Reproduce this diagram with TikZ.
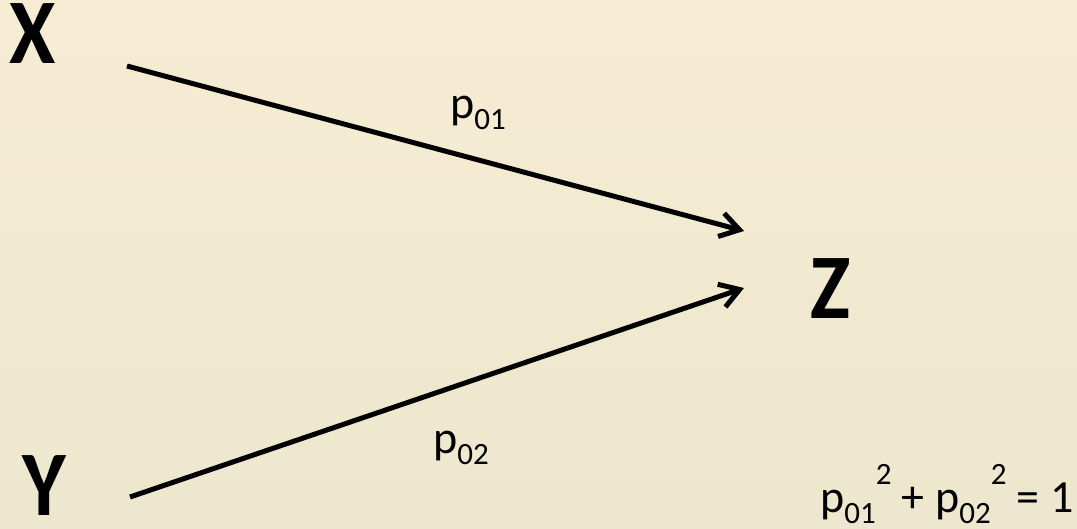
\documentclass[tikz,border=0pt]{standalone}
\usepackage{fontspec}
\setmainfont{Carlito}
\usetikzlibrary{arrows.meta}
\definecolor{bgtop}{RGB}{246,236,211}
\definecolor{bgmid}{RGB}{242,234,211}
\definecolor{bgbot}{RGB}{236,231,206}
\newcommand{\sbs}[1]{\raisebox{-0.26em}{\fontsize{31}{31}\selectfont #1}}
\newcommand{\sps}[1]{\raisebox{0.6em}{\fontsize{31}{31}\selectfont #1}}
\newcommand{\tall}[1]{\scalebox{1}[1.1]{#1}}
\tikzset{
  bigletter/.style={inner sep=0pt, anchor=base west, font=\fontsize{84}{84}\selectfont\bfseries},
  lbl/.style={inner sep=0pt, anchor=base west, font=\fontsize{46}{46}\selectfont},
  arr/.style={line width=5pt, -{Straight Barb[length=19pt,width=24pt]}}
}
\begin{document}
\begin{tikzpicture}[x=1pt,y=-1pt]
\useasboundingbox (0,0) rectangle (1077,528);
\shade[top color=bgtop, middle color=bgmid, bottom color=bgbot] (0,0) rectangle (1077,528);
\node[bigletter] (X) at (9,63) {\tall{X}};
\node[bigletter] (Y) at (22,515) {\tall{Y}};
\node[bigletter] (Z) at (810,318) {\tall{Z}};
\coordinate (xs) at (127,66);
\coordinate (ys) at (130,497);
\coordinate (zt1) at (744,231);
\coordinate (zt2) at (744,288);
\draw[arr] (xs) -- (zt1);
\draw[arr] (ys) -- (zt2);
\node[lbl] (p1) at (450,118) {p\sbs{01}};
\node[lbl] (p2) at (433,453) {p\sbs{02}};
\node[lbl] (eq) at (820,512) {p\sbs{01}\sps{2} + p\sbs{02}\sps{2} = 1};
\end{tikzpicture}
\end{document}
